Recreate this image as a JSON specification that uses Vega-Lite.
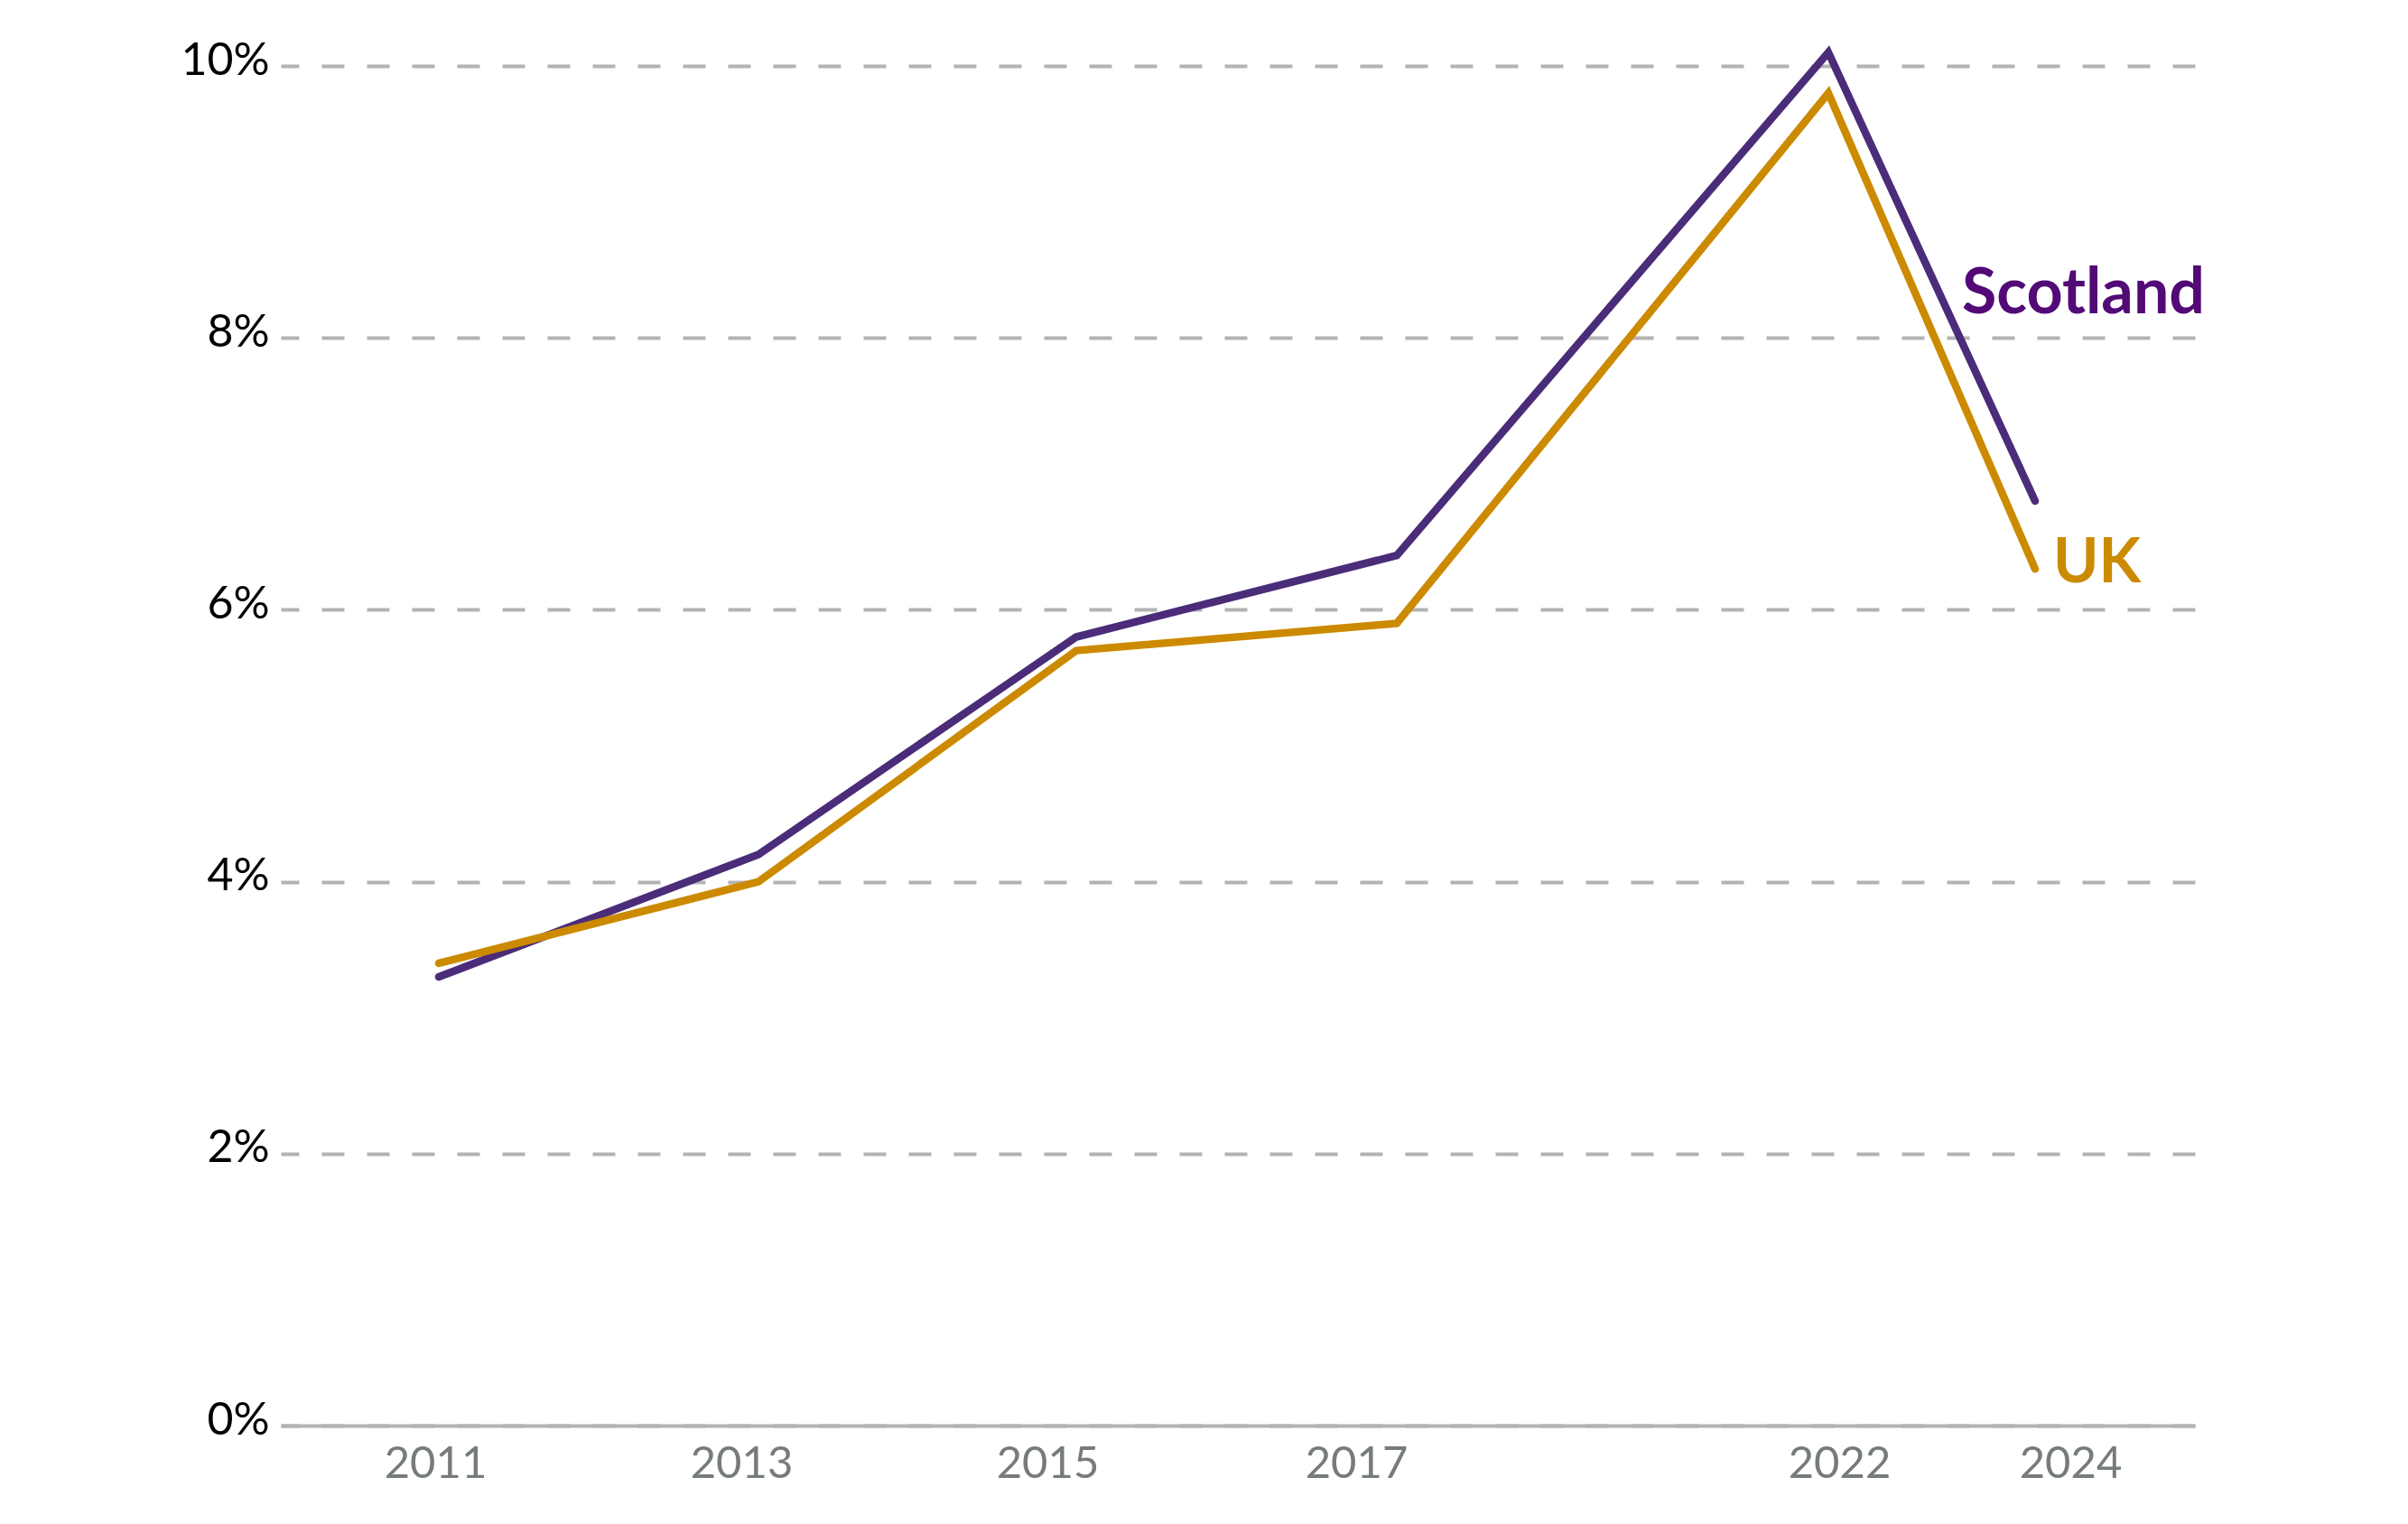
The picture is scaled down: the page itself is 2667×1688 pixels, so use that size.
{
  "$schema": "https://vega.github.io/schema/vega-lite/v6.json",
  "width": 2120,
  "height": 1506,
  "autosize": {"type": "none"},
  "padding": {"left": 311, "top": 73, "right": 236, "bottom": 109},
  "background": "white",
  "config": {"view": {"stroke": null}, "font": "Lato"},
  "data": {
    "values": [
      {"year": 2011, "region": "Scotland", "value": 3.3},
      {"year": 2013, "region": "Scotland", "value": 4.2},
      {"year": 2015, "region": "Scotland", "value": 5.8},
      {"year": 2017, "region": "Scotland", "value": 6.4},
      {"year": 2022, "region": "Scotland", "value": 10.1},
      {"year": 2024, "region": "Scotland", "value": 6.8},
      {"year": 2011, "region": "UK", "value": 3.4},
      {"year": 2013, "region": "UK", "value": 4.0},
      {"year": 2015, "region": "UK", "value": 5.7},
      {"year": 2017, "region": "UK", "value": 5.9},
      {"year": 2022, "region": "UK", "value": 9.8},
      {"year": 2024, "region": "UK", "value": 6.3}
    ]
  },
  "encoding": {
    "y": {
      "field": "value",
      "type": "quantitative",
      "scale": {"domain": [0, 10], "nice": false, "zero": true},
      "axis": {
        "values": [0, 2, 4, 6, 8, 10],
        "labelExpr": "datum.value + '%'",
        "title": null,
        "domain": false,
        "ticks": false,
        "tickSize": 0,
        "labelPadding": 13,
        "labelFontSize": 50,
        "labelFont": "Lato",
        "labelColor": "#000000",
        "labelBaseline": "alphabetic",
        "labelOffset": 9,
        "gridDash": [25, 25],
        "gridDashOffset": 5,
        "gridColor": "#b3b3b3",
        "gridWidth": 4
      }
    }
  },
  "layer": [
    {
      "layer": [
        {
          "mark": {"type": "line", "strokeWidth": 8.5, "strokeCap": "round", "strokeJoin": "miter"},
          "encoding": {
            "x": {
              "field": "year",
              "type": "quantitative",
              "scale": {"domain": [2010, 2011, 2013, 2015, 2017, 2022, 2024, 2025], "range": [0, 175, 529, 881, 1236, 1714, 1943, 2120], "nice": false, "zero": false},
              "axis": null
            },
            "color": {
              "field": "region",
              "type": "nominal",
              "scale": {"domain": ["Scotland", "UK"], "range": ["#4b2c79", "#cc8a00"]},
              "legend": null
            }
          }
        },
        {
          "transform": [{"filter": "datum.year == 2024 && datum.region == 'Scotland'"}],
          "mark": {"type": "text", "align": "left", "baseline": "alphabetic", "dx": -81, "dy": -208, "fontSize": 70, "fontWeight": "bold", "font": "Lato", "color": "#520a76"},
          "encoding": {
            "x": {
              "field": "year",
              "type": "quantitative",
              "scale": {"domain": [2010, 2011, 2013, 2015, 2017, 2022, 2024, 2025], "range": [0, 175, 529, 881, 1236, 1714, 1943, 2120], "nice": false, "zero": false},
              "axis": null
            },
            "text": {"field": "region"}
          }
        },
        {
          "transform": [{"filter": "datum.year == 2024 && datum.region == 'UK'"}],
          "mark": {"type": "text", "align": "left", "baseline": "alphabetic", "dx": 20, "dy": 15, "fontSize": 68, "fontWeight": "bold", "font": "Lato", "color": "#cc8a00"},
          "encoding": {
            "x": {
              "field": "year",
              "type": "quantitative",
              "scale": {"domain": [2010, 2011, 2013, 2015, 2017, 2022, 2024, 2025], "range": [0, 175, 529, 881, 1236, 1714, 1943, 2120], "nice": false, "zero": false},
              "axis": null
            },
            "text": {"field": "region"}
          }
        }
      ]
    },
    {
      "mark": {"type": "point", "opacity": 0},
      "encoding": {
        "x": {
          "field": "year",
          "type": "quantitative",
          "scale": {"domain": [2010, 2011, 2013, 2015, 2017, 2022, 2024, 2025], "range": [0, 171, 510, 849, 1191, 1726, 1982, 2120], "nice": false, "zero": false},
          "axis": {
            "orient": "bottom",
            "values": [2011, 2013, 2015, 2017, 2022, 2024],
            "format": "d",
            "title": null,
            "ticks": false,
            "tickSize": 0,
            "grid": false,
            "domainColor": "#b3b3b3",
            "domainWidth": 4,
            "labelFont": "Lato",
            "labelFontSize": 49,
            "labelColor": "#767b7d",
            "labelPadding": 57,
            "labelBaseline": "alphabetic",
            "labelFlush": false,
            "labelOverlap": false
          }
        }
      }
    }
  ],
  "resolve": {"scale": {"x": "independent"}, "axis": {"x": "independent"}}
}
